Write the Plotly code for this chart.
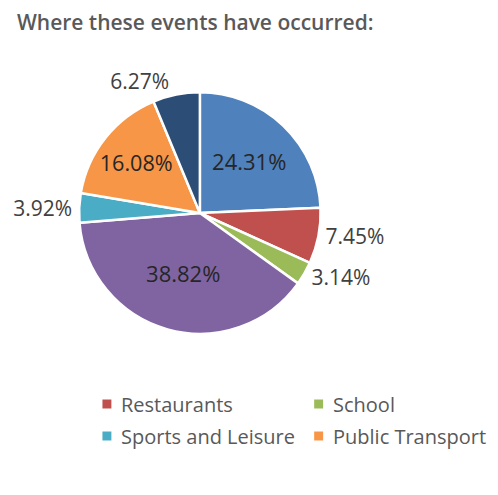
import plotly.graph_objects as go

# slices in clockwise order from 12 o'clock
places = ["Unlabelled A", "Restaurants", "School", "Unlabelled B",
          "Sports and Leisure", "Public Transport", "Unlabelled C"]
shares = [24.31, 7.45, 3.14, 38.82, 3.92, 16.08, 6.27]
colors = ["#4F81BD", "#C0504D", "#9BBB59", "#8064A2",
          "#4BACC6", "#F79646", "#2C4D75"]
text_pos = ["inside", "outside", "outside", "inside",
            "outside", "inside", "outside"]

# legend entries shown in the reference, in reading order (2 x 2 grid)
legend_names = ["Restaurants", "School", "Sports and Leisure", "Public Transport"]

fig = go.Figure()
fig.add_trace(go.Pie(
    labels=places,
    values=shares,
    sort=False,
    direction="clockwise",
    rotation=0,
    marker=dict(colors=colors, line=dict(color="white", width=2.5)),
    texttemplate="%{value:.2f}%",
    textposition=text_pos,
    insidetextorientation="horizontal",
    insidetextfont=dict(color="#262626", size=22, family="Open Sans"),
    outsidetextfont=dict(color="#404040", size=21, family="Open Sans"),
    showlegend=False,
    domain=dict(x=[0.1376, 0.6255], y=[0.3404, 0.8313]),
))

# legend drawn as a 2x2 grid of colour keys + labels (pixels -> paper coords)
# (the page body adds an 8px offset, so positions are given relative to that)
W, H = 498, 495
col_x = [96.5, 309.5]
row_y = [396, 428]
for i, name in enumerate(legend_names):
    cx, cy = col_x[i % 2], row_y[i // 2]
    fig.add_shape(type="rect", xref="paper", yref="paper",
                  x0=(cx - 4.5) / W, x1=(cx + 4.5) / W,
                  y0=1 - (cy + 4.5) / H, y1=1 - (cy - 4.5) / H,
                  fillcolor=colors[places.index(name)], line_width=0)
    fig.add_annotation(text=name, xref="paper", yref="paper",
                       x=(cx + 12) / W, y=1 - cy / H,
                       xanchor="left", yanchor="middle", showarrow=False,
                       font=dict(size=20, color="#595959", family="Open Sans"))

fig.update_layout(
    width=W, height=H,
    margin=dict(l=0, r=0, t=0, b=0),
    paper_bgcolor="white", plot_bgcolor="white",
    font=dict(family="Open Sans", color="#595959"),
    showlegend=False,
    title=dict(text="Where these events have occurred:", x=0.018, xanchor="left",
               y=0.971, yanchor="middle",
               font=dict(size=21, color="#595959", family="Open Sans", weight=600)),
)

fig.write_html("out.html")
